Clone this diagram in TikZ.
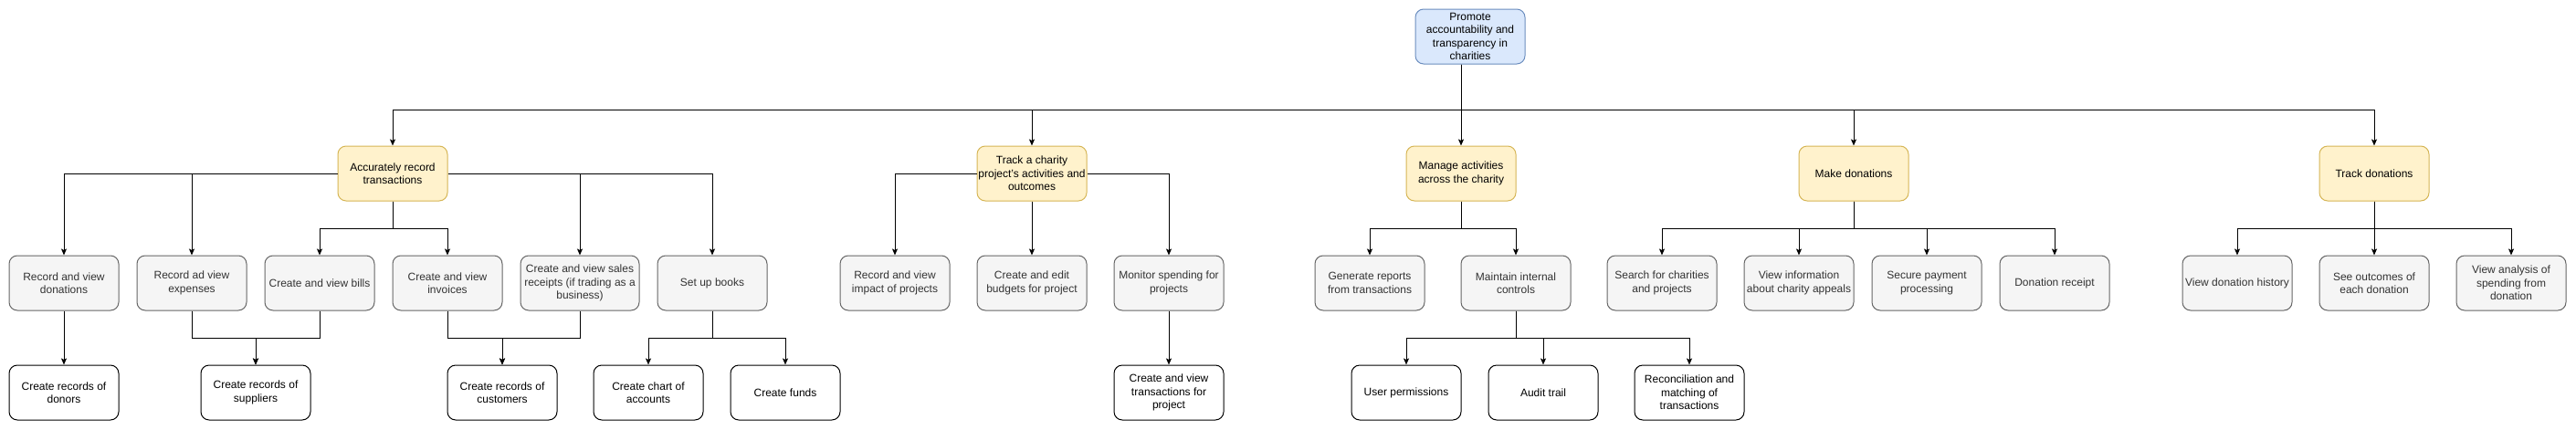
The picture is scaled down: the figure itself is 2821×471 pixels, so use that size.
\documentclass[tikz,border=0pt]{standalone}
\usepackage{fontspec}
\setmainfont{Liberation Sans}
\usetikzlibrary{arrows.meta}
\definecolor{bluefill}{HTML}{DAE8FC}
\definecolor{bluedraw}{HTML}{6C8EBF}
\definecolor{yelfill}{HTML}{FFF2CC}
\definecolor{yeldraw}{HTML}{D6B656}
\definecolor{grayfill}{HTML}{F5F5F5}
\definecolor{graydraw}{HTML}{666666}
\definecolor{graytext}{HTML}{333333}
\tikzset{
  basebox/.style={rectangle, rounded corners=9pt, minimum width=120pt, minimum height=60pt,
    inner sep=0pt, align=center, line width=1pt, font=\fontsize{12}{14.5}\selectfont},
  bluebox/.style={basebox, fill=bluefill, draw=bluedraw},
  yelbox/.style={basebox, fill=yelfill, draw=yeldraw},
  greybox/.style={basebox, fill=grayfill, draw=graydraw, text=graytext},
  whitebox/.style={basebox, fill=white, draw=black},
  edge/.style={line width=1pt, draw=black, -{Stealth[length=7pt,width=6pt,inset=1.5pt]}}
}
\begin{document}
\begin{tikzpicture}[x=1pt,y=-1pt]
\useasboundingbox (0,0) rectangle (2821,471);
\fill[white] (0,0) rectangle (2821,471);

% root
\node[bluebox] (root) at (1610,40) {Promote\\accountability and\\transparency in\\charities};

% level 1
\node[yelbox] (acc) at (430,190) {Accurately record\\transactions};
\node[yelbox] (track) at (1130,190) {Track a charity\\project's activities and\\outcomes};
\node[yelbox] (man) at (1600,190) {Manage activities\\across the charity};
\node[yelbox] (make) at (2030,190) {Make donations};
\node[yelbox] (trackdon) at (2600,190) {Track donations};

% level 2
\node[greybox] (don) at (70,310) {Record and view\\donations};
\node[greybox] (exp) at (210,310) {Record ad view\\expenses};
\node[greybox] (bills) at (350,310) {Create and view bills};
\node[greybox] (inv) at (490,310) {Create and view\\invoices};
\node[greybox, minimum width=130pt] (rec) at (635,310) {Create and view sales\\receipts (if trading as a\\business)};
\node[greybox] (books) at (780,310) {Set up books};
\node[greybox] (impact) at (980,310) {Record and view\\impact of projects};
\node[greybox] (budgets) at (1130,310) {Create and edit\\budgets for project};
\node[greybox] (monitor) at (1280,310) {Monitor spending for\\projects};
\node[greybox] (genrep) at (1500,310) {Generate reports\\from transactions};
\node[greybox] (maint) at (1660,310) {Maintain internal\\controls};
\node[greybox] (search) at (1820,310) {Search for charities\\and projects};
\node[greybox] (viewinfo) at (1970,310) {View information\\about charity appeals};
\node[greybox] (secure) at (2110,310) {Secure payment\\processing};
\node[greybox] (receipt) at (2250,310) {Donation receipt};
\node[greybox] (history) at (2450,310) {View donation history};
\node[greybox] (outcomes) at (2600,310) {See outcomes of\\each donation};
\node[greybox] (analysis) at (2750,310) {View analysis of\\spending from\\donation};

% level 3
\node[whitebox] (donors) at (70,430) {Create records of\\donors};
\node[whitebox] (suppliers) at (280,430) {Create records of\\suppliers};
\node[whitebox] (customers) at (550,430) {Create records of\\customers};
\node[whitebox] (chart) at (710,430) {Create chart of\\accounts};
\node[whitebox] (funds) at (860,430) {Create funds};
\node[whitebox] (transproj) at (1280,430) {Create and view\\transactions for\\project};
\node[whitebox] (userperm) at (1540,430) {User permissions};
\node[whitebox] (audit) at (1690,430) {Audit trail};
\node[whitebox] (recon) at (1850,430) {Reconciliation and\\matching of\\transactions};

% root edges
\draw[edge] (root.south -| man.north) -- (man.north);
\draw[edge] (root.south -| man.north) -- ++(0,50) -| (acc.north);
\draw[edge] (root.south -| man.north) -- ++(0,50) -| (track.north);
\draw[edge] (root.south -| man.north) -- ++(0,50) -| (make.north);
\draw[edge] (root.south -| man.north) -- ++(0,50) -| (trackdon.north);

% accurately record
\draw[edge] (acc.west) -| (don.north);
\draw[edge] (acc.west) -| (exp.north);
\draw[edge] (acc.east) -| (rec.north);
\draw[edge] (acc.east) -| (books.north);
\draw[edge] (acc.south) -- ++(0,30) -| (bills.north);
\draw[edge] (acc.south) -- ++(0,30) -| (inv.north);

% track project
\draw[edge] (track.west) -| (impact.north);
\draw[edge] (track.south) -- (budgets.north);
\draw[edge] (track.east) -| (monitor.north);

% manage
\draw[edge] (man.south) -- ++(0,30) -| (genrep.north);
\draw[edge] (man.south) -- ++(0,30) -| (maint.north);

% make donations
\draw[edge] (make.south) -- ++(0,30) -| (search.north);
\draw[edge] (make.south) -- ++(0,30) -| (viewinfo.north);
\draw[edge] (make.south) -- ++(0,30) -| (secure.north);
\draw[edge] (make.south) -- ++(0,30) -| (receipt.north);

% track donations
\draw[edge] (trackdon.south) -- ++(0,30) -| (history.north);
\draw[edge] (trackdon.south) -- (outcomes.north);
\draw[edge] (trackdon.south) -- ++(0,30) -| (analysis.north);

% level 3 edges
\draw[edge] (don.south) -- (donors.north);
\draw[edge] (exp.south) -- ++(0,30) -| (suppliers.north);
\draw[edge] (bills.south) -- ++(0,30) -| (suppliers.north);
\draw[edge] (inv.south) -- ++(0,30) -| (customers.north);
\draw[edge] (rec.south) -- ++(0,30) -| (customers.north);
\draw[edge] (books.south) -- ++(0,30) -| (chart.north);
\draw[edge] (books.south) -- ++(0,30) -| (funds.north);
\draw[edge] (monitor.south) -- (transproj.north);
\draw[edge] (maint.south) -- ++(0,30) -| (userperm.north);
\draw[edge] (maint.south) -- ++(0,30) -| (audit.north);
\draw[edge] (maint.south) -- ++(0,30) -| (recon.north);
\end{tikzpicture}
\end{document}
